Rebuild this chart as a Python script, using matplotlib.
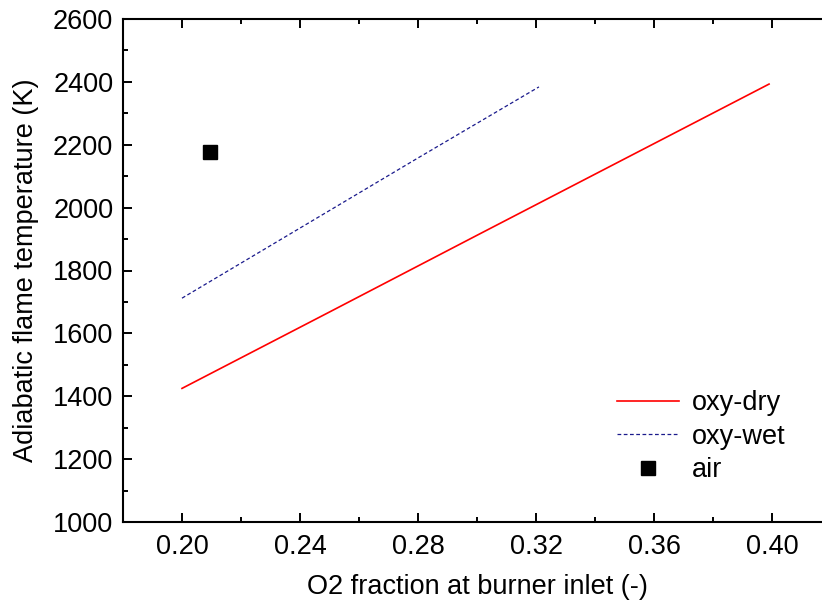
import matplotlib
matplotlib.use('Agg')
import matplotlib.pyplot as plt
from matplotlib.ticker import MultipleLocator

# data
o2_dry = [0.200, 0.250, 0.300, 0.350, 0.399]
t_dry = [1425, 1668, 1912, 2155, 2393]
o2_wet = [0.200, 0.240, 0.280, 0.321]
t_wet = [1712, 1935, 2158, 2384]
o2_air = [0.2095]
t_air = [2177]

plt.rcParams['font.family'] = ['Liberation Sans', 'DejaVu Sans']
fs = 19.5

fig = plt.figure(figsize=(8.22, 6.04), dpi=100)
ax = fig.add_axes([123 / 822, 82 / 604, 708 / 822, 503 / 604])

ax.plot(o2_dry, t_dry, color='red', linewidth=1.2, label='oxy-dry')
ax.plot(o2_wet, t_wet, color='#1a1a8c', linewidth=0.9, dashes=(3, 2), label='oxy-wet')
ax.plot(o2_air, t_air, linestyle='none', marker='s', markersize=9.5, color='black', label='air')

ax.set_xlim(0.18, 0.42)
ax.set_ylim(1000, 2600)
ax.xaxis.set_major_locator(MultipleLocator(0.04))
ax.xaxis.set_minor_locator(MultipleLocator(0.02))
ax.yaxis.set_major_locator(MultipleLocator(200))
ax.yaxis.set_minor_locator(MultipleLocator(100))
ax.set_xticks([0.20, 0.24, 0.28, 0.32, 0.36, 0.40])
ax.set_xticklabels(['0.20', '0.24', '0.28', '0.32', '0.36', '0.40'])

ax.tick_params(which='both', direction='in', top=True, right=True, width=1.4, labelsize=fs)
ax.tick_params(which='major', length=6.5)
ax.tick_params(which='minor', length=3.5)
ax.tick_params(axis='y', pad=7)
ax.tick_params(axis='x', pad=9)
for sp in ax.spines.values():
    sp.set_linewidth(1.5)

ax.set_xlabel('O2 fraction at burner inlet (-)', fontsize=fs, labelpad=10)
ax.set_ylabel('Adiabatic flame temperature (K)', fontsize=fs, labelpad=10)

leg = ax.legend(loc='upper left', bbox_to_anchor=(617 / 822, 1 - 390 / 604),
                bbox_transform=fig.transFigure, frameon=False, fontsize=fs,
                handlelength=2.3, handletextpad=0.45, labelspacing=0.28,
                borderpad=0, borderaxespad=0)

fig.savefig('out.png', dpi=100)
